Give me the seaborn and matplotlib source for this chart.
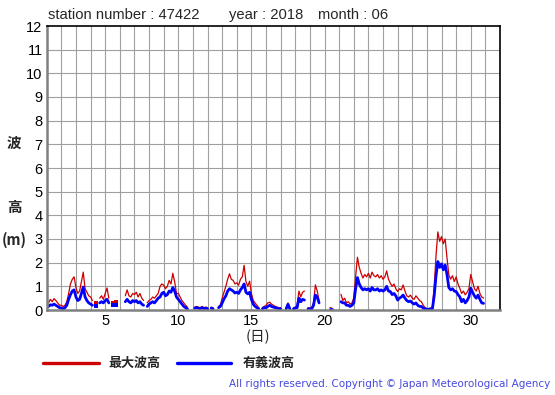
import numpy as np
import pandas as pd
import matplotlib
matplotlib.use("Agg")
import matplotlib.pyplot as plt
import seaborn as sns

nan = np.nan
# 3-hourly readings, 8 per day, days 1..30
max_wave = [
    nan, 0.30, 0.45, 0.35, 0.48, 0.40, 0.30, 0.20,   # 1
    0.20, 0.15, 0.20, 0.35, 0.70, 1.10, 1.30, 1.40,  # 2
    0.95, 0.70, 0.80, 1.20, 1.60, 0.90, 0.75, 0.60,  # 3
    0.55, 0.40, nan, 0.30, nan, 0.50, 0.60, 0.45,    # 4
    0.70, 0.93, 0.50, nan, 0.30, nan, 0.35, nan,     # 5
    nan, nan, nan, 0.60, 0.85, 0.60, 0.55, 0.70,     # 6
    0.65, 0.75, 0.55, 0.70, 0.50, 0.40, nan, 0.30,   # 7
    0.40, 0.45, 0.55, 0.50, 0.60, 0.70, 1.00, 1.10,  # 8
    1.05, 0.90, 1.00, 1.25, 1.10, 1.55, 1.20, 0.70,  # 9
    0.70, 0.55, 0.40, 0.30, 0.20, 0.12, nan, nan,    # 10
    nan, 0.12, 0.15, 0.12, 0.10, 0.15, 0.10, 0.12,   # 11
    0.10, nan, 0.12, 0.10, nan, nan, 0.15, 0.20,     # 12
    0.50, 0.75, 1.00, 1.30, 1.53, 1.30, 1.25, 1.10,  # 13
    1.15, 1.05, 1.30, 1.40, 1.89, 1.20, 1.00, 1.22,  # 14
    0.70, 0.40, 0.30, 0.20, 0.10, nan, 0.10, 0.15,   # 15
    0.20, 0.30, 0.33, 0.25, 0.20, 0.15, 0.12, 0.10,  # 16
    0.10, nan, nan, 0.10, 0.30, 0.10, nan, 0.10,     # 17
    0.12, 0.20, 0.80, 0.55, 0.75, 0.80, nan, 0.10,   # 18
    0.08, 0.10, 0.30, 1.06, 0.80, 0.40, nan, nan,    # 19
    nan, nan, nan, 0.10, 0.08, nan, nan, nan,        # 20
    nan, 0.66, 0.40, 0.50, 0.30, 0.35, 0.25, 0.30,   # 21
    0.50, 1.40, 2.23, 1.80, 1.55, 1.35, 1.50, 1.40,  # 22
    1.55, 1.35, 1.60, 1.45, 1.40, 1.50, 1.35, 1.45,  # 23
    1.30, 1.40, 1.65, 1.30, 1.13, 1.00, 1.10, 0.90,  # 24
    0.78, 0.90, 0.85, 1.06, 0.80, 0.60, 0.55, 0.63,  # 25
    0.50, 0.45, 0.60, 0.50, 0.40, 0.35, 0.20, 0.10,  # 26
    0.05, 0.05, 0.08, 0.10, 1.00, 2.30, 3.30, 2.90,  # 27
    3.10, 2.80, 3.00, 2.20, 1.48, 1.30, 1.45, 1.20,  # 28
    1.40, 1.10, 0.92, 0.70, 0.80, 0.64, 0.75, 0.90,  # 29
    1.50, 1.20, 0.90, 0.80, 1.00, 0.70, 0.55, 0.50,  # 30
]
sig_wave = [
    nan, 0.15, 0.22, 0.20, 0.25, 0.20, 0.15, 0.10,   # 1
    0.08, 0.05, 0.10, 0.20, 0.45, 0.65, 0.80, 0.85,  # 2
    0.55, 0.40, 0.45, 0.70, 0.97, 0.55, 0.40, 0.30,  # 3
    0.25, 0.20, nan, 0.15, nan, 0.30, 0.35, 0.30,    # 4
    0.40, 0.45, 0.30, nan, 0.20, nan, 0.20, nan,     # 5
    nan, nan, nan, 0.35, 0.45, 0.35, 0.30, 0.40,     # 6
    0.35, 0.40, 0.30, 0.35, 0.25, 0.20, nan, 0.15,   # 7
    0.25, 0.30, 0.35, 0.30, 0.40, 0.50, 0.55, 0.70,  # 8
    0.75, 0.60, 0.65, 0.80, 0.75, 0.95, 0.80, 0.55,  # 9
    0.45, 0.35, 0.25, 0.15, 0.10, 0.05, nan, nan,    # 10
    nan, 0.08, 0.10, 0.08, 0.05, 0.10, 0.05, 0.08,   # 11
    0.05, nan, 0.08, 0.05, nan, nan, 0.10, 0.15,     # 12
    0.30, 0.47, 0.60, 0.80, 0.90, 0.85, 0.80, 0.72,  # 13
    0.75, 0.70, 0.85, 0.95, 1.10, 0.75, 0.68, 0.75,  # 14
    0.45, 0.25, 0.15, 0.10, 0.05, nan, 0.05, 0.10,   # 15
    0.10, 0.15, 0.20, 0.15, 0.12, 0.10, 0.08, 0.05,  # 16
    0.05, nan, nan, 0.05, 0.24, 0.05, nan, 0.05,     # 17
    0.08, 0.10, 0.50, 0.35, 0.45, 0.42, nan, 0.05,   # 18
    0.05, 0.05, 0.20, 0.63, 0.55, 0.30, nan, nan,    # 19
    nan, nan, nan, 0.05, 0.05, nan, nan, nan,        # 20
    nan, 0.35, 0.30, 0.30, 0.20, 0.20, 0.15, 0.20,   # 21
    0.30, 0.90, 1.37, 1.10, 0.95, 0.85, 0.90, 0.85,  # 22
    0.90, 0.80, 0.95, 0.85, 0.85, 0.90, 0.80, 0.85,  # 23
    0.80, 0.85, 1.00, 0.80, 0.78, 0.65, 0.70, 0.60,  # 24
    0.42, 0.50, 0.55, 0.63, 0.50, 0.40, 0.35, 0.38,  # 25
    0.30, 0.25, 0.30, 0.20, 0.15, 0.15, 0.08, 0.05,  # 26
    0.03, 0.03, 0.05, 0.05, 0.60, 1.45, 2.05, 1.80,  # 27
    1.95, 1.70, 1.90, 1.50, 0.95, 0.85, 0.90, 0.80,  # 28
    0.78, 0.65, 0.56, 0.35, 0.45, 0.30, 0.40, 0.55,  # 29
    0.92, 0.75, 0.60, 0.50, 0.63, 0.45, 0.30, 0.28,  # 30
]
n_days = 30
per_day = 8
time_day = [1 + i / per_day for i in range(n_days * per_day)]

y_ticks = list(range(0, 13))
x_tick_labels = [5, 10, 15, 20, 25, 30]
title_station = "station number : 47422"
title_year = "year : 2018"
title_month = "month : 06"
legend_labels = ["最大波高", "有義波高"]


def segments(vals):
    seg, ids, prev_nan = 0, [], True
    for v in vals:
        if np.isnan(v):
            ids.append(-1)
            prev_nan = True
        else:
            if prev_nan:
                seg += 1
            ids.append(seg)
            prev_nan = False
    return ids


def frame(vals):
    df = pd.DataFrame({"day": time_day, "h": vals})
    df["seg"] = segments(vals)
    df = df[df["seg"] >= 0]
    counts = df["seg"].map(df["seg"].value_counts())
    return df, df[counts == 1]


df_max, iso_max = frame(max_wave)
df_sig, iso_sig = frame(sig_wave)

sns.set_theme(style="white")
plt.rcParams["font.family"] = ["Liberation Sans", "Noto Sans CJK JP", "DejaVu Sans"]

fig = plt.figure(figsize=(5.55, 3.95), dpi=100)
ax = fig.add_axes([46.7 / 555, 85 / 395, (500 - 46.7) / 555, (310 - 26) / 395])

RED = "#cc0000"
BLUE = "#0000ff"

sns.lineplot(data=df_max, x="day", y="h", units="seg", estimator=None,
             color=RED, lw=0.9, ax=ax, legend=False)
sns.scatterplot(data=iso_max, x="day", y="h", color=RED, s=6, linewidth=0,
                marker="s", ax=ax, legend=False)
sns.lineplot(data=df_sig, x="day", y="h", units="seg", estimator=None,
             color=BLUE, lw=2.0, ax=ax, legend=False)
sns.scatterplot(data=iso_sig, x="day", y="h", color=BLUE, s=8, linewidth=0,
                marker="s", ax=ax, legend=False)

ax.set_xlim(1, 32)
ax.set_ylim(0, 12)
ax.set_xticks(x_tick_labels)
ax.set_xticklabels([str(v) for v in x_tick_labels])
ax.set_yticks(y_ticks)
ax.set_yticklabels([str(v) for v in y_ticks])
ax.grid(False)
for d in range(2, 32):
    ax.axvline(d, color="#a0a0a0", lw=0.8, zorder=0)
for v in range(1, 12):
    ax.axhline(v, color="#a0a0a0", lw=0.8, zorder=0)
ax.tick_params(axis="both", which="both", length=0, labelsize=10.5, colors="black")
ax.tick_params(axis="x", pad=3)
ax.tick_params(axis="y", pad=3)
ax.set_xlabel("")
ax.set_ylabel("")
for s in ["left", "bottom"]:
    ax.spines[s].set_color("#808080")
    ax.spines[s].set_linewidth(1.8)
for s in ["top", "right"]:
    ax.spines[s].set_color("black")
    ax.spines[s].set_linewidth(1.2)

W, H = 555, 395
def ft(x, y, s, **kw):
    fig.text(x / W, 1 - y / H, s, **kw)

ft(48, 15, title_station, fontsize=10.6, va="center", ha="left")
ft(229, 15, title_year, fontsize=10.6, va="center", ha="left")
ft(318, 15, title_month, fontsize=10.6, va="center", ha="left")

cjk = ["Noto Sans CJK JP", "DejaVu Sans"]
ft(14, 143, "波", fontsize=10.5, family=cjk, fontweight="bold", ha="center", va="center")
ft(14, 207, "高", fontsize=10.5, family=cjk, fontweight="bold", ha="center", va="center")
ft(14, 240, "(m)", fontsize=10.5, family=cjk, fontweight="bold", ha="center", va="center")
ft(258, 337, "(日)", fontsize=10.5, family=cjk, ha="center", va="center")

fig.add_artist(plt.Line2D([43 / W, 99 / W], [1 - 363 / H] * 2, color=RED, lw=2.4))
ft(108, 363, legend_labels[0], fontsize=9.4, family=cjk, fontweight="bold", va="center")
fig.add_artist(plt.Line2D([177 / W, 231 / W], [1 - 363 / H] * 2, color=BLUE, lw=2.4))
ft(243, 363, legend_labels[1], fontsize=9.4, family=cjk, fontweight="bold", va="center")

ft(550, 384, "All rights reserved. Copyright © Japan Meteorological Agency",
   fontsize=7.5, color="#4848e0", ha="right", va="center", family=["DejaVu Sans"])

fig.savefig("out.png", dpi=100)
